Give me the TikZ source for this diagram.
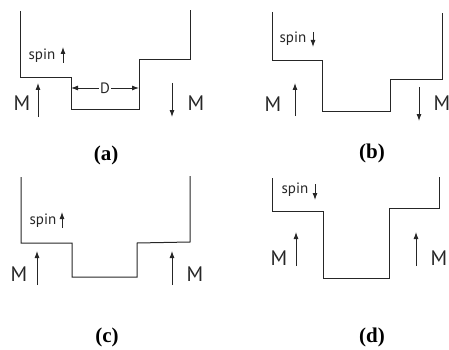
\documentclass[tikz,border=0pt]{standalone}
\usepackage{fontspec}
\setmainfont{Liberation Serif}
\newfontfamily\sfm{PT Sans}
\usetikzlibrary{arrows.meta}
\begin{document}
\begin{tikzpicture}[x=1pt,y=-1pt,
  wall/.style={line width=1pt, draw=black!85},
  arr/.style={line width=0.9pt, draw=black!85, -{Latex[length=7pt,width=5pt]}},
  mlab/.style={font=\sfm\fontsize{21}{21}\selectfont, inner sep=0, text=black!85},
  spinlab/.style={font=\sfm\fontsize{15}{15}\selectfont, inner sep=0, text=black!85},
  dlab/.style={font=\sfm\fontsize{15}{15}\selectfont, inner sep=1pt, text=black!85},
  caplab/.style={font=\bfseries\fontsize{21}{21}\selectfont, inner sep=0}]
\useasboundingbox (0,0) rectangle (449,350);

% ---------- (a)
\draw[wall] (20,11)--(20,78)--(71,78)--(71,109)--(139,109)--(139,60)--(190,60)--(190,10);
\node[spinlab] (sa) at (42,56) {spin};
\coordinate (sa1) at (63,63); \coordinate (sa2) at (63,47);
\draw[arr] (sa1) -- (sa2);
\node[mlab] (ma1) at (22,103) {M};
\coordinate (ma1s) at (38,117); \coordinate (ma1e) at (38,83);
\draw[arr] (ma1s) -- (ma1e);
\node[dlab] (d) at (105,88) {D};
\coordinate (dl) at (71,88); \coordinate (dr) at (139,88);
\draw[arr] (d.west) -- (dl);
\draw[arr] (d.east) -- (dr);
\coordinate (ma2s) at (172,83); \coordinate (ma2e) at (172,117);
\draw[arr] (ma2s) -- (ma2e);
\node[mlab] (ma2) at (196,103) {M};
\node[caplab] (la) at (106,155) {(a)};

% ---------- (b)
\draw[wall] (272,12)--(272,61)--(322,61)--(322,111)--(390,111)--(390,80)--(442,80)--(442,13);
\node[spinlab] (sb) at (293,39) {spin};
\coordinate (sb1) at (313,32); \coordinate (sb2) at (313,47);
\draw[arr] (sb1) -- (sb2);
\node[mlab] (mb1) at (273,104) {M};
\coordinate (mb1s) at (295,116); \coordinate (mb1e) at (295,83);
\draw[arr] (mb1s) -- (mb1e);
\coordinate (mb2s) at (419,87); \coordinate (mb2e) at (419,121);
\draw[arr] (mb2s) -- (mb2e);
\node[mlab] (mb2) at (442,103) {M};
\node[caplab] (lb) at (372,153) {(b)};

% ---------- (c)
\draw[wall] (21,177)--(21,243)--(72,243)--(72,277)--(137,277)--(137,243)--(190,242)--(190,176);
\node[spinlab] (sc) at (43,221) {spin};
\coordinate (sc1) at (62,228); \coordinate (sc2) at (62,212);
\draw[arr] (sc1) -- (sc2);
\node[mlab] (mc1) at (19,274) {M};
\coordinate (mc1s) at (37,285); \coordinate (mc1e) at (37,251);
\draw[arr] (mc1s) -- (mc1e);
\coordinate (mc2s) at (172,285); \coordinate (mc2e) at (172,251);
\draw[arr] (mc2s) -- (mc2e);
\node[mlab] (mc2) at (195,274) {M};
\node[caplab] (lc) at (107,337) {(c)};

% ---------- (d)
\draw[wall] (272,178)--(272,211)--(323,211)--(323,278)--(389,278)--(389,208)--(439,208)--(439,177);
\node[spinlab] (sd) at (295,190) {spin};
\coordinate (sd1) at (315,184); \coordinate (sd2) at (315,200);
\draw[arr] (sd1) -- (sd2);
\node[mlab] (md1) at (279,258) {M};
\coordinate (md1s) at (296,266); \coordinate (md1e) at (296,232);
\draw[arr] (md1s) -- (md1e);
\coordinate (md2s) at (416,266); \coordinate (md2e) at (416,232);
\draw[arr] (md2s) -- (md2e);
\node[mlab] (md2) at (439,258) {M};
\node[caplab] (ld) at (372,337) {(d)};
\end{tikzpicture}
\end{document}
